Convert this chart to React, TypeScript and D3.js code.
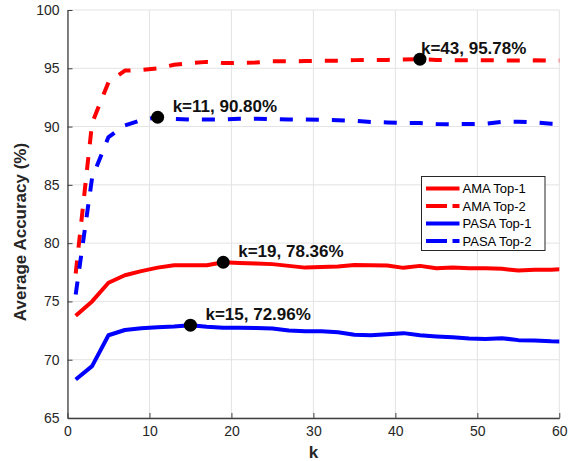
import * as d3 from 'd3';
import React, { useEffect, useRef } from 'react';

// k values (odd k, last one clipped at the axis limit)
const kValues = [1, 3, 5, 7, 9, 11, 13, 15, 17, 19, 21, 23, 25, 27, 29, 31, 33, 35, 37, 39, 41, 43, 45, 47, 49, 51, 53, 55, 57, 59, 61];

const amaTop1 = [73.78, 75.0, 76.6, 77.25, 77.6, 77.9, 78.1, 78.1, 78.1, 78.36, 78.3, 78.25, 78.2, 78.05, 77.9, 77.95, 78.0, 78.12, 78.1, 78.08, 77.88, 78.05, 77.85, 77.9, 77.85, 77.85, 77.8, 77.65, 77.72, 77.72, 77.8];
const amaTop2 = [77.4, 90.3, 93.8, 94.8, 94.85, 95.0, 95.3, 95.45, 95.55, 95.45, 95.45, 95.5, 95.6, 95.6, 95.62, 95.65, 95.65, 95.7, 95.72, 95.72, 95.75, 95.78, 95.72, 95.7, 95.7, 95.7, 95.68, 95.66, 95.68, 95.66, 95.66];
const pasaTop1 = [68.3, 69.45, 72.1, 72.55, 72.7, 72.78, 72.85, 72.96, 72.82, 72.75, 72.75, 72.72, 72.68, 72.5, 72.45, 72.45, 72.35, 72.15, 72.1, 72.18, 72.28, 72.1, 72.0, 71.92, 71.82, 71.78, 71.85, 71.68, 71.65, 71.58, 71.55];
const pasaTop2 = [75.6, 85.6, 89.1, 90.1, 90.55, 90.8, 90.65, 90.6, 90.6, 90.6, 90.68, 90.68, 90.65, 90.6, 90.6, 90.57, 90.55, 90.5, 90.4, 90.35, 90.3, 90.3, 90.22, 90.2, 90.22, 90.25, 90.4, 90.42, 90.35, 90.25, 90.2];

const seriesNames = ['AMA Top-1', 'AMA Top-2', 'PASA Top-1', 'PASA Top-2'];
const seriesValues = [amaTop1, amaTop2, pasaTop1, pasaTop2];
const seriesColors = ['#ff0000', '#ff0000', '#0000ff', '#0000ff'];
const seriesDashed = [false, true, false, true];

// highlighted best points
const bestK = [43, 11, 19, 15];
const bestValue = [95.78, 90.80, 78.36, 72.96];
const bestLabelDx = [1, 15, 15, 15];

const xTicks = [0, 10, 20, 30, 40, 50, 60];
const yTicks = [65, 70, 75, 80, 85, 90, 95, 100];

const FONT = '"Liberation Sans", Arial, Helvetica, sans-serif';

export default function App() {
    const ref = useRef<SVGSVGElement>(null);

    useEffect(() => {
        const svg = d3.select(ref.current);
        svg.selectAll('*').remove();

        const W = 572, H = 461;
        const left = 67.5, right = 559.3, top = 10, bottom = 418;

        const x = d3.scaleLinear().domain([0, 60]).range([left, right]);
        const y = d3.scaleLinear().domain([65, 100]).range([bottom, top]);

        svg.append('rect').attr('width', W).attr('height', H).attr('fill', '#fff');

        // grid
        const grid = svg.append('g').attr('stroke', '#e3e3e3').attr('stroke-width', 1);
        xTicks.forEach(t => {
            grid.append('line').attr('x1', x(t)).attr('x2', x(t)).attr('y1', top).attr('y2', bottom);
        });
        yTicks.forEach(t => {
            grid.append('line').attr('x1', left).attr('x2', right).attr('y1', y(t)).attr('y2', y(t));
        });

        svg.append('clipPath').attr('id', 'plotclip')
            .append('rect').attr('x', left).attr('y', top).attr('width', right - left).attr('height', bottom - top);

        const line = d3.line<number>()
            .x((d, i) => x(kValues[i]))
            .y(d => y(d));

        const lines = svg.append('g').attr('clip-path', 'url(#plotclip)');
        seriesValues.forEach((vals, i) => {
            lines.append('path')
                .attr('d', line(vals))
                .attr('fill', 'none')
                .attr('stroke', seriesColors[i])
                .attr('stroke-width', 4)
                .attr('stroke-linejoin', 'round')
                .attr('stroke-dasharray', seriesDashed[i] ? '13,13' : null);
        });

        // axes
        const xAxis = svg.append('g')
            .attr('transform', `translate(0,${bottom})`)
            .call(d3.axisBottom(x).tickValues(xTicks).tickSize(-5).tickPadding(8).tickSizeOuter(0));
        const yAxis = svg.append('g')
            .attr('transform', `translate(${left},0)`)
            .call(d3.axisLeft(y).tickValues(yTicks).tickSize(-5).tickPadding(8).tickSizeOuter(0));

        [xAxis, yAxis].forEach(a => {
            a.select('.domain').attr('stroke', '#404040').attr('stroke-width', 1.3);
            a.selectAll('.tick line').attr('stroke', '#404040');
            a.selectAll('.tick text')
                .attr('fill', '#262626')
                .style('font-family', FONT)
                .style('font-size', '14px');
        });

        // best points and labels
        bestK.forEach((k, i) => {
            svg.append('circle')
                .attr('cx', x(k)).attr('cy', y(bestValue[i])).attr('r', 6.5)
                .attr('fill', '#000');
            svg.append('text')
                .attr('x', x(k) + bestLabelDx[i])
                .attr('y', y(bestValue[i]) - 5)
                .attr('fill', '#111')
                .style('font-family', FONT)
                .style('font-size', '17px')
                .style('font-weight', 'bold')
                .text(`k=${k}, ${bestValue[i].toFixed(2)}%`);
        });

        // axis labels
        svg.append('text')
            .attr('x', (left + right) / 2).attr('y', 458)
            .attr('text-anchor', 'middle')
            .attr('fill', '#262626')
            .style('font-family', FONT).style('font-size', '17px').style('font-weight', 'bold')
            .text('k');
        svg.append('text')
            .attr('transform', `translate(26,232) rotate(-90)`)
            .attr('text-anchor', 'middle')
            .attr('fill', '#262626')
            .style('font-family', FONT).style('font-size', '17px').style('font-weight', 'bold')
            .text('Average Accuracy (%)');

        // legend
        const lg = svg.append('g').attr('transform', 'translate(421.5,176.5)');
        lg.append('rect').attr('width', 123.5).attr('height', 74)
            .attr('fill', '#fff').attr('stroke', '#262626').attr('stroke-width', 1);
        seriesNames.forEach((name, i) => {
            const ly = 12 + i * 17.5;
            lg.append('line')
                .attr('x1', 4.5).attr('x2', 38).attr('y1', ly).attr('y2', ly)
                .attr('stroke', seriesColors[i]).attr('stroke-width', 4)
                .attr('stroke-dasharray', seriesDashed[i] ? '21,5.5' : null);
            lg.append('text')
                .attr('x', 41).attr('y', ly + 4.5)
                .attr('fill', '#000')
                .style('font-family', FONT).style('font-size', '13px')
                .text(name);
        });
    }, []);

    return (
        <svg ref={ref} width={572} height={461} style={{ position: 'absolute', left: 0, top: 0 }} />
    );
}
